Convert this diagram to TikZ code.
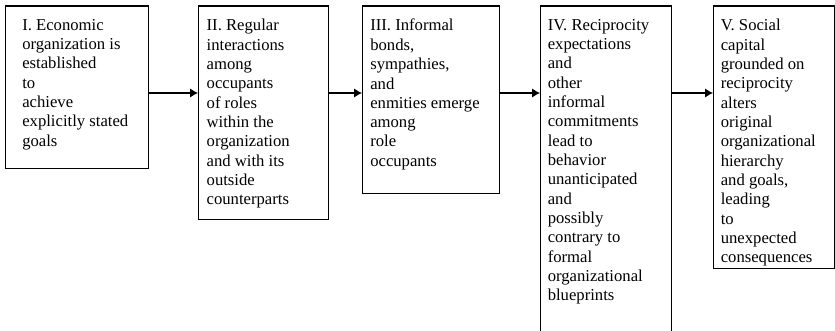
\documentclass[tikz,border=0pt]{standalone}
\usepackage{fontspec}
\setmainfont{Liberation Serif}
\usetikzlibrary{arrows.meta}
\begin{document}
\begin{tikzpicture}[x=0.75pt,y=-0.75pt,
  stagebox/.style={draw, line width=0.9pt, inner sep=0pt, anchor=north west},
  stagetext/.style={anchor=north west, inner sep=0pt, align=left,
    font=\fontsize{12.5}{14.5}\selectfont},
  flow/.style={line width=0.8pt, -{Latex[length=6pt,width=7pt]}}]
% page frame
\clip (0,0) rectangle (835,331);
\fill[white] (0,0) rectangle (835,331);

% stage boxes
\node[stagebox, minimum width=107.25pt, minimum height=121.875pt] (b1) at (5,5.5) {};
\node[stagebox, minimum width=97.5pt,   minimum height=160.125pt] (b2) at (198,5.5) {};
\node[stagebox, minimum width=102.75pt, minimum height=140.625pt] (b3) at (362,5.5) {};
\node[stagebox, minimum width=98.25pt,  minimum height=254.6pt]   (b4) at (540,5.5) {};
\node[stagebox, minimum width=90.75pt,  minimum height=196.875pt] (b5) at (713,5.5) {};

% stage texts
\node[stagetext] (t1) at ([shift={(17,13.5)}]b1.north west)
  {I. Economic\\organization is\\established\\to\\achieve\\explicitly stated\\goals};
\node[stagetext] (t2) at ([shift={(8.4,13.5)}]b2.north west)
  {II. Regular\\interactions\\among\\occupants\\of roles\\within the\\organization\\and with its\\outside\\counterparts};
\node[stagetext] (t3) at ([shift={(8,13.5)}]b3.north west)
  {III. Informal\\bonds,\\sympathies,\\and\\enmities emerge\\among\\role\\occupants};
\node[stagetext] (t4) at ([shift={(7.5,13.5)}]b4.north west)
  {IV. Reciprocity\\expectations\\and\\other\\informal\\commitments\\lead to\\behavior\\unanticipated\\and\\possibly\\contrary to\\formal\\organizational\\blueprints};
\node[stagetext] (t5) at ([shift={(7.5,13.5)}]b5.north west)
  {V. Social\\capital\\grounded on\\reciprocity\\alters\\original\\organizational\\hierarchy\\and goals,\\leading\\to\\unexpected\\consequences};

% connectors
\coordinate (row) at (0,93);
\draw[flow] (b1.east |- row) -- (b2.west |- row);
\draw[flow] (b2.east |- row) -- (b3.west |- row);
\draw[flow] (b3.east |- row) -- (b4.west |- row);
\draw[flow] (b4.east |- row) -- (b5.west |- row);
\end{tikzpicture}
\end{document}
